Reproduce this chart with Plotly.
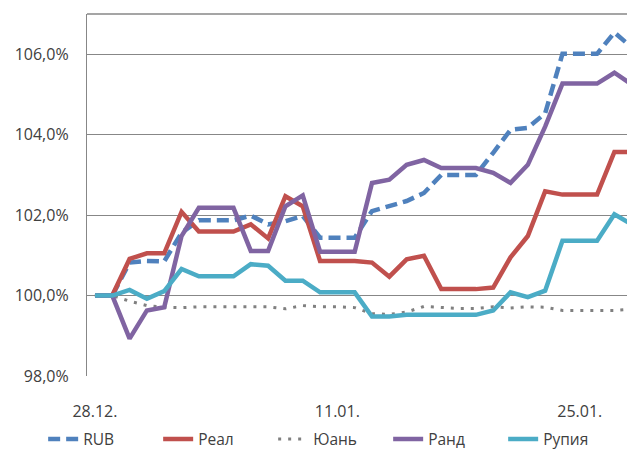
import pandas as pd
import plotly.graph_objects as go

dates = [d.strftime("%d.%m.") for d in pd.date_range("2020-12-28", "2021-01-28", freq="D")]

rub = [100.0, 100.0, 100.82, 100.86, 100.85, 101.56, 101.87, 101.87, 101.87, 101.99, 101.77,
       101.85, 101.98, 101.44, 101.44, 101.44, 102.10, 102.22, 102.35, 102.55, 103.0, 103.0,
       103.0, 103.55, 104.12, 104.17, 104.53, 106.01, 106.01, 106.01, 106.54, 106.17]
real = [100.0, 100.0, 100.91, 101.05, 101.05, 102.08, 101.59, 101.59, 101.59, 101.77, 101.42,
        102.47, 102.22, 100.86, 100.86, 100.86, 100.82, 100.47, 100.90, 100.99, 100.16, 100.16,
        100.16, 100.20, 100.95, 101.48, 102.59, 102.51, 102.51, 102.51, 103.57, 103.57]
yuan = [100.0, 100.0, 99.86, 99.75, 99.71, 99.70, 99.72, 99.72, 99.72, 99.72, 99.72,
        99.67, 99.75, 99.72, 99.72, 99.70, 99.55, 99.53, 99.59, 99.73, 99.70, 99.68,
        99.68, 99.72, 99.69, 99.72, 99.71, 99.63, 99.63, 99.63, 99.63, 99.66]
rand = [100.0, 100.0, 98.93, 99.63, 99.71, 101.48, 102.18, 102.18, 102.18, 101.11, 101.11,
        102.22, 102.49, 101.09, 101.09, 101.09, 102.80, 102.88, 103.25, 103.37, 103.17, 103.17,
        103.17, 103.05, 102.80, 103.25, 104.20, 105.27, 105.27, 105.27, 105.54, 105.25]
rupee = [100.0, 100.0, 100.14, 99.92, 100.11, 100.66, 100.48, 100.48, 100.48, 100.78, 100.74,
         100.37, 100.37, 100.08, 100.08, 100.08, 99.48, 99.48, 99.52, 99.52, 99.52, 99.52,
         99.52, 99.63, 100.08, 99.96, 100.12, 101.36, 101.36, 101.36, 102.02, 101.77]

names = ["RUB", "Реал", "Юань", "Ранд", "Рупия"]
series = [rub, real, yuan, rand, rupee]
colors = ["#4F81BD", "#C0504D", "#808080", "#8064A2", "#4BACC6"]
dashes = ["12px,6px", "solid", "3px,7px", "solid", "solid"]
widths = [4.5, 4.5, 3, 4.5, 4.5]

y_ticks = [98, 100, 102, 104, 106]
y_ticktext = ["98,0%", "100,0%", "102,0%", "104,0%", "106,0%"]
x_tick_labels = [dates[0], dates[14], dates[28]]

fig = go.Figure()
for n, s, c, d, w in zip(names, series, colors, dashes, widths):
    fig.add_trace(go.Scatter(x=dates, y=s, name=n, mode="lines",
                             line=dict(color=c, width=w, dash=d)))

# the page body has an 8px default margin, so the figure is sized to fit the window
font = dict(family="Open Sans, Noto Sans, sans-serif", size=16, color="#404040")
fig.update_layout(
    width=627, height=442,
    margin=dict(l=79, r=0, t=6, b=74, autoexpand=False),
    paper_bgcolor="white", plot_bgcolor="white",
    font=font,
    showlegend=True,
    legend=dict(orientation="h", x=-0.080, xanchor="left", y=-0.128, yanchor="top",
                font=dict(size=15.5, color="#404040"), entrywidth=70,
                entrywidthmode="pixels", tracegroupgap=0),
    shapes=[dict(type="line", xref="paper", yref="paper", x0=0, x1=1, y0=1, y1=1,
                 line=dict(color="#878787", width=1.3))],
)
fig.update_xaxes(type="category", range=[-0.46, 31.19], tickvals=x_tick_labels,
                 ticktext=x_tick_labels, showgrid=False, zeroline=False,
                 ticks="outside", ticklen=21, tickcolor="rgba(0,0,0,0)",
                 showline=False)
fig.update_yaxes(range=[98, 107], tickvals=y_ticks, ticktext=y_ticktext,
                 showgrid=True, gridcolor="#878787", gridwidth=1.3, zeroline=False,
                 showline=True, linecolor="#878787", linewidth=1.3,
                 ticks="outside", ticklen=14, tickcolor="rgba(0,0,0,0)")

fig.write_html("out.html")
